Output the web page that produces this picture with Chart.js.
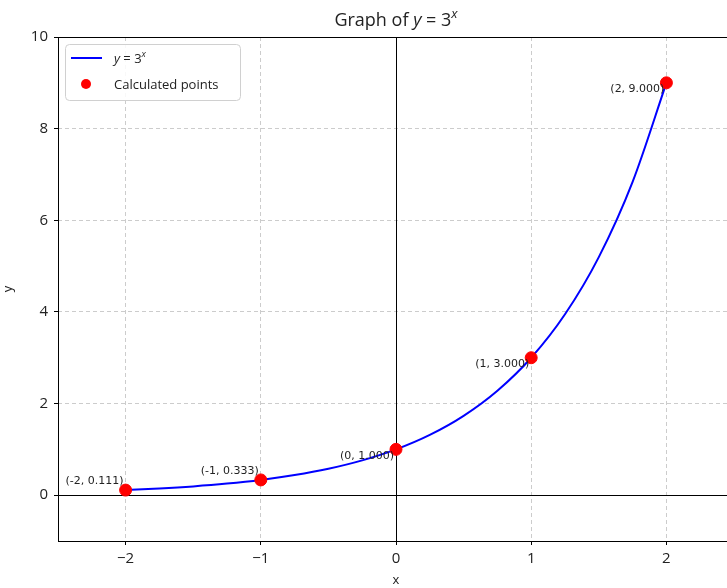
<!DOCTYPE html>
<html lang="en">
<head>
  <meta charset="UTF-8">
  <title>Graph of y = 3^x</title>
  <script src="https://cdn.jsdelivr.net/npm/chart.js"></script>
  <style>
    html, body {
      margin: 0;
      padding: 0;
      background: #fff;
      overflow: hidden;
    }
    .wrap {
      width: 727px;
      height: 588px;
      overflow: hidden;
    }
  </style>
</head>
<body>

<div class="wrap">
  <canvas id="expChart" width="741" height="588" style="width:741px;height:588px"></canvas>
</div>

<script>
  // curve samples
  const curveX = [-2, -1.75, -1.5, -1.25, -1, -0.75, -0.5, -0.25, 0, 0.25, 0.5, 0.75, 1, 1.25, 1.5, 1.75, 2];
  const curveY = [0.111, 0.146, 0.192, 0.253, 0.333, 0.439, 0.577, 0.760, 1.0, 1.316, 1.732, 2.280, 3.0, 3.948, 5.196, 6.839, 9.0];

  // the marked points
  const pointX = [-2, -1, 0, 1, 2];
  const pointY = [0.111, 0.333, 1.0, 3.0, 9.0];
  const pointLabels = ['(-2, 0.111)', '(-1, 0.333)', '(0, 1.000)', '(1, 3.000)', '(2, 9.000)'];

  const xTicks = [-2, -1, 0, 1, 2];
  const yTicks = [0, 2, 4, 6, 8, 10];

  const FONT = '"Open Sans", "DejaVu Sans", sans-serif';

  // vertical nudge of each point label (px)
  const labelDy = [-9, -9, 7, 6, 6];

  // frame, zero lines, title, legend and point labels
  const extras = {
    id: 'extras',
    beforeDatasetsDraw(chart) {
      const ctx = chart.ctx;
      const a = chart.chartArea;
      const xs = chart.scales.x, ys = chart.scales.y;
      ctx.save();
      ctx.strokeStyle = '#000';
      ctx.lineWidth = 1;
      const y0 = Math.round(ys.getPixelForValue(0)) + 0.5;
      const x0 = Math.round(xs.getPixelForValue(0)) + 0.5;
      ctx.beginPath();
      ctx.moveTo(a.left, y0); ctx.lineTo(a.right, y0);
      ctx.moveTo(x0, a.top); ctx.lineTo(x0, a.bottom);
      ctx.stroke();
      ctx.restore();
    },
    afterDraw(chart) {
      const ctx = chart.ctx;
      const a = chart.chartArea;
      const xs = chart.scales.x, ys = chart.scales.y;
      ctx.save();

      // frame
      ctx.strokeStyle = '#000';
      ctx.lineWidth = 1;
      ctx.strokeRect(a.left + 0.5, a.top + 0.5, a.right - a.left, a.bottom - a.top);

      // title
      ctx.fillStyle = '#222';
      ctx.textBaseline = 'alphabetic';
      ctx.textAlign = 'left';
      const tBase = 26;
      const parts = [
        { t: 'Graph of ', f: '18px ' + FONT, dy: 0 },
        { t: 'y', f: 'italic 18px ' + FONT, dy: 0 },
        { t: ' = 3', f: '18px ' + FONT, dy: 0 },
        { t: 'x', f: 'italic 13px ' + FONT, dy: -8 }
      ];
      let total = 0;
      parts.forEach(p => { ctx.font = p.f; total += ctx.measureText(p.t).width; });
      let tx = (a.left + a.right) / 2 - total / 2;
      parts.forEach(p => {
        ctx.font = p.f;
        ctx.fillText(p.t, tx, tBase + p.dy);
        tx += ctx.measureText(p.t).width;
      });

      // point labels
      ctx.font = '11px "DejaVu Sans", sans-serif';
      ctx.fillStyle = '#222';
      ctx.textAlign = 'right';
      ctx.textBaseline = 'middle';
      pointX.forEach((v, i) => {
        const px = xs.getPixelForValue(v);
        const py = ys.getPixelForValue(pointY[i]);
        ctx.fillText(pointLabels[i], px - 2, py + labelDy[i]);
      });

      // legend
      const lx = 65, ly = 44, lw = 175, lh = 56, r = 4;
      ctx.fillStyle = 'rgba(255,255,255,0.85)';
      ctx.strokeStyle = '#d0d0d0';
      ctx.beginPath();
      ctx.roundRect(lx + 0.5, ly + 0.5, lw, lh, r);
      ctx.fill();
      ctx.stroke();

      ctx.strokeStyle = '#0000ff';
      ctx.lineWidth = 2;
      ctx.beginPath();
      ctx.moveTo(71, 58); ctx.lineTo(102, 58);
      ctx.stroke();

      ctx.fillStyle = '#ff0000';
      ctx.beginPath();
      ctx.arc(86, 84, 5, 0, Math.PI * 2);
      ctx.fill();

      ctx.fillStyle = '#222';
      ctx.textAlign = 'left';
      ctx.textBaseline = 'alphabetic';
      let lxText = 114;
      const legParts = [
        { t: 'y', f: 'italic 13px ' + FONT, dy: 0 },
        { t: ' = 3', f: '13px ' + FONT, dy: 0 },
        { t: 'x', f: 'italic 9px ' + FONT, dy: -6 }
      ];
      legParts.forEach(p => {
        ctx.font = p.f;
        ctx.fillText(p.t, lxText, 63 + p.dy);
        lxText += ctx.measureText(p.t).width;
      });
      ctx.font = '13px ' + FONT;
      ctx.fillText('Calculated points', 114, 89);

      ctx.restore();
    }
  };

  const gridOpts = {
    color: 'rgba(0,0,0,0.2)',
    tickColor: '#000',
    tickLength: 4,
    tickBorderDash: []
  };

  new Chart(document.getElementById('expChart'), {
    type: 'scatter',
    data: {
      datasets: [
        {
          label: 'y = 3^x',
          type: 'line',
          data: curveX.map((x, i) => ({ x: x, y: curveY[i] })),
          borderColor: '#0000ff',
          borderWidth: 2,
          pointRadius: 0,
          fill: false,
          cubicInterpolationMode: 'monotone',
          order: 2
        },
        {
          label: 'Calculated points',
          data: pointX.map((x, i) => ({ x: x, y: pointY[i] })),
          backgroundColor: '#ff0000',
          borderColor: '#ff0000',
          pointRadius: 6,
          order: 1
        }
      ]
    },
    options: {
      responsive: false,
      animation: false,
      layout: { padding: { top: 37, left: 0, right: 0, bottom: 0 } },
      plugins: {
        legend: { display: false },
        title: { display: false },
        tooltip: { enabled: false }
      },
      scales: {
        x: {
          type: 'linear',
          min: -2.5,
          max: 2.5,
          afterBuildTicks: s => { s.ticks = xTicks.map(v => ({ value: v })); },
          afterFit: s => { s.height = 47; },
          grid: gridOpts,
          border: { display: false, dash: [4, 3] },
          ticks: {
            color: '#222',
            font: { family: FONT, size: 15 },
            padding: 5,
            maxRotation: 0,
            callback: v => (v < 0 ? '\u2212' + Math.abs(v) : String(v))
          },
          title: {
            display: true,
            text: 'x',
            color: '#222',
            font: { family: FONT, size: 13 },
            padding: { top: 0, bottom: 0 }
          }
        },
        y: {
          type: 'linear',
          min: -1,
          max: 10,
          afterBuildTicks: s => { s.ticks = yTicks.map(v => ({ value: v })); },
          afterFit: s => { s.width = 58; },
          grid: gridOpts,
          border: { display: false, dash: [4, 3] },
          ticks: {
            color: '#222',
            font: { family: FONT, size: 15 },
            padding: 6
          },
          title: {
            display: true,
            text: 'y',
            color: '#222',
            font: { family: FONT, size: 13 },
            padding: { top: 0, bottom: 0 }
          }
        }
      }
    },
    plugins: [extras]
  });
</script>

</body>
</html>
